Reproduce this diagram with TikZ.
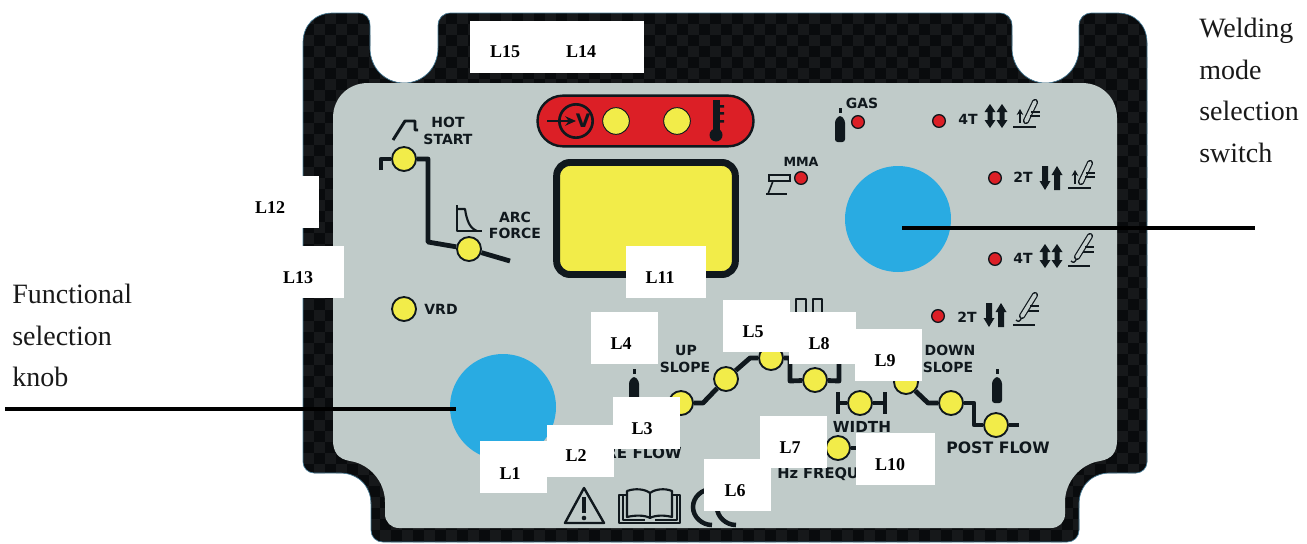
\documentclass[tikz,border=0pt]{standalone}
\usepackage{fontspec}
\setmainfont{Liberation Serif}
\newfontfamily\panelfont{DejaVu Sans}[BoldFont={DejaVu Sans Bold}]
\usetikzlibrary{arrows.meta}
\definecolor{carbon}{HTML}{090B0D}
\definecolor{carbonlt}{HTML}{16181A}
\definecolor{carbonrim}{HTML}{4A7F9A}
\definecolor{plate}{HTML}{C0CBC9}
\definecolor{ink}{HTML}{10181D}
\definecolor{ledyellow}{HTML}{F2EC49}
\definecolor{ledred}{HTML}{DC1F26}
\definecolor{knobblue}{HTML}{29ABE2}
\tikzset{
  updown/.pic={\fill[ink] (0,-12) -- (5.5,-4) -- (2.5,-4) -- (2.5,4) -- (5.5,4) -- (0,12) -- (-5.5,4) -- (-2.5,4) -- (-2.5,-4) -- (-5.5,-4) -- cycle;},
  uponly/.pic={\fill[ink] (0,-12) -- (5.5,-3) -- (3,-3) -- (3,12) -- (-3,12) -- (-3,-3) -- (-5.5,-3) -- cycle;},
  downonly/.pic={\fill[ink] (0,12) -- (5.5,3) -- (3,3) -- (3,-12) -- (-3,-12) -- (-3,3) -- (-5.5,3) -- cycle;},
  bottle/.pic={
    \fill[ink] (-1.5,-34) rectangle (1.5,-29);
    \fill[ink, rounded corners=2pt] (-5,0) -- (-5,-22) -- (0,-27) -- (5,-22) -- (5,0) -- cycle;},
  torchup/.pic={
    \draw[ink, line width=2.2pt] (0,0) -- (23,0);
    \draw[ink, line width=1.3pt, -{Stealth[length=4.5pt,width=5pt]}] (7,-4) -- (7,-18);
    \draw[ink, line width=4.6pt, line cap=round] (13,-6) -- (22,-25);
    \draw[plate!90!white, line width=2.8pt, line cap=round] (13,-6) -- (22,-25);
    \draw[ink, line width=1pt] (18,-15) -- (27,-15) (17,-11) -- (27,-11);},
  torchdown/.pic={
    \draw[ink, line width=2.2pt] (0,0) -- (22,0);
    \draw[ink, line width=1pt] (3,-5) .. controls (5,-3) and (7,-3) .. (9,-8);
    \draw[ink, line width=4.6pt, line cap=round] (9,-9) -- (22,-30);
    \draw[plate!90!white, line width=2.8pt, line cap=round] (9,-9) -- (22,-30);
    \draw[ink, line width=1pt] (17,-19) -- (26,-19) (15,-14) -- (26,-14);}
}
\newcommand{\carbonoutline}{(333,13) -- (358,13) .. controls (366,13) and (370,18) .. (370,26) -- (370,48) .. controls (370,68) and (385,83) .. (404,83) .. controls (423,83) and (438,68) .. (438,48) -- (438,26) .. controls (438,18) and (443,13) .. (451,13) -- (999,13) .. controls (1007,13) and (1012,18) .. (1012,26) -- (1012,48) .. controls (1012,68) and (1027,83) .. (1045.5,83) .. controls (1064,83) and (1079,68) .. (1079,48) -- (1079,26) .. controls (1079,18) and (1084,13) .. (1092,13) -- (1117,13) .. controls (1135,13) and (1147,25) .. (1147,43) -- (1147,462) .. controls (1147,468) and (1142,473) .. (1136,473) -- (1110,473) .. controls (1092,473) and (1079,486) .. (1079,504) -- (1079,530) .. controls (1079,537) and (1074,542) .. (1067,542) -- (383,542) .. controls (376,542) and (371,537) .. (371,530) -- (371,504) .. controls (371,486) and (358,473) .. (340,473) -- (314,473) .. controls (308,473) and (303,468) .. (303,462) -- (303,43) .. controls (303,25) and (315,13) .. (333,13) -- cycle}
\begin{document}
\begin{tikzpicture}[x=0.75pt, y=-0.75pt]
  \tikzstyle{led}=[circle, draw=ink, fill=ledyellow, line width=1.4pt, minimum size=18pt, inner sep=0pt]
  \tikzstyle{dot}=[circle, draw=ink, fill=ledred, line width=1pt, minimum size=9.5pt, inner sep=0pt]
  \tikzstyle{knob}=[circle, fill=knobblue, minimum size=79.5pt, inner sep=0pt]
  \tikzstyle{trace}=[draw=ink, line width=3.6pt, line join=round]
  \tikzstyle{glyph}=[draw=ink, line width=1.8pt, line join=round]
  \tikzstyle{ptxt}=[font=\panelfont\bfseries\fontsize{10.5}{12}\selectfont, text=ink, inner sep=0pt, align=center]
  \tikzstyle{blank}=[fill=white, minimum height=39pt, inner sep=0pt, outer sep=0pt]
  \tikzstyle{lbl}=[font=\bfseries\fontsize{13.5}{15}\selectfont, text=black, inner sep=0pt]
  \tikzstyle{leader}=[draw=black, line width=3.6pt]
  \tikzstyle{callout}=[font=\fontsize{21}{31.2}\selectfont, text=black!90, align=left, inner sep=0pt, anchor=north west]

  \useasboundingbox (0,0) rectangle (1307,543);

  % carbon frame
  \begin{scope}
    \clip \carbonoutline;
    \fill[carbon] (290,0) rectangle (1160,543);
    \foreach \cx in {0,...,38} {
      \foreach \cy in {0,...,24} {
        \fill[carbonlt] ({303+22*\cx},{13+22*\cy}) rectangle ++(11,11);
        \fill[carbonlt] ({314+22*\cx},{24+22*\cy}) rectangle ++(11,11);
      }
    }
  \end{scope}
  \draw[carbonrim, line width=0.5pt] \carbonoutline;

  % plate
  \fill[plate] (368,83) -- (1082,83) .. controls (1102,83) and (1117,98) .. (1117,118) -- (1117,440) .. controls (1117,452) and (1112,459) .. (1100,461) .. controls (1080,464) and (1065,482) .. (1065,502) -- (1065,514) .. controls (1065,522) and (1059,528) .. (1051,528) -- (399,528) .. controls (391,528) and (385,522) .. (385,514) -- (385,502) .. controls (385,482) and (370,464) .. (350,461) .. controls (338,459) and (333,452) .. (333,440) -- (333,118) .. controls (333,98) and (348,83) .. (368,83) -- cycle;

  % knobs
  \node[knob] (funcknob) at (503,407) {};
  \node[knob] (modeknob) at (898,219) {};

  % display
  \node[draw=ink, fill=ledyellow, line width=5.2pt, rounded corners=10pt, minimum width=134pt, minimum height=84pt] (display) at (646,218.5) {};
  \node[draw=ink, fill=ledred, line width=1.8pt, rounded corners=19pt, minimum width=162pt, minimum height=38pt] (meter) at (645.5,121) {};
  \node[circle, draw=ink, line width=2pt, minimum size=25pt, inner sep=0pt] (volt) at (576,121) {};
  \coordinate (voltin) at (547,121);
  \draw[draw=ink, line width=1.8pt, -{Stealth[length=8pt,width=7pt]}] (voltin) -- (volt.center);
  \node[font=\panelfont\bfseries\fontsize{14}{15}\selectfont, text=ink, inner sep=0pt] (voltv) at (583,121) {V};
  \node[led, line width=0.7pt, minimum size=20pt] (meterA) at (616,121) {};
  \node[led, line width=0.7pt, minimum size=20pt] (meterB) at (677,121) {};
  \fill[ink] (712.5,100) rectangle (719.5,135);
  \fill[ink] (716,135) circle[radius=6.5];
  \fill[ink] (716,105) rectangle (724,107.5) (716,112) rectangle (724,114.5) (716,120) rectangle (724,122.5);

  % leds
  \node[led] (hotled) at (404,159) {};
  \node[led] (arcled) at (469,249) {};
  \node[led] (vrdled) at (404,309) {};
  \node[led] (preled) at (681,403) {};
  \node[led] (upled) at (726,379) {};
  \node[led] (peakled) at (771,358) {};
  \node[led] (baseled) at (815,380) {};
  \node[led] (widthled) at (860,403) {};
  \node[led] (freqled) at (838,448) {};
  \node[led] (downled) at (906,382) {};
  \node[led] (finalled) at (951,403) {};
  \node[led] (postled) at (996,425) {};

  % red dots
  \node[dot] (gasdot) at (858,122) {};
  \node[dot] (mmadot) at (801,178) {};
  \node[dot] (dotA) at (939,121) {};
  \node[dot] (dotB) at (995,178) {};
  \node[dot] (dotC) at (995,259) {};
  \node[dot] (dotD) at (938,316) {};

  % traces
  \coordinate (hotend) at (381,170);
  \coordinate (hotbend) at (428,159);
  \coordinate (arcbend) at (428,242);
  \coordinate (arcend) at (510,261);
  \draw[trace] (hotend) |- (hotled);
  \draw[trace] (hotled) -- (hotbend) -- (arcbend) -- (arcled) -- (arcend);
  \coordinate (b1) at (703,403);
  \coordinate (b2) at (750,358);
  \coordinate (b3) at (790,358);
  \coordinate (b4) at (790,381);
  \coordinate (b5) at (839,381);
  \coordinate (b6) at (839,358);
  \coordinate (b7) at (882,358);
  \coordinate (b8) at (928,403);
  \coordinate (b9) at (974,403);
  \coordinate (b10) at (974,425);
  \coordinate (postend) at (1019,425);
  \coordinate (freqend) at (870,448);
  \draw[trace] (preled) -- (b1) -- (upled);
  \draw[trace] (upled) -- (b2) -- (peakled);
  \draw[trace] (peakled) -- (b3) -- (b4) -- (baseled);
  \draw[trace] (baseled) -- (b5) -- (b6) -- (b7) -- (downled);
  \draw[trace] (downled) -- (b8) -- (finalled);
  \draw[trace] (finalled) -- (b9) -- (b10) -- (postled);
  \draw[trace] (postled) -- (postend);
  \draw[trace] (freqled) -- (freqend);
  \coordinate (widthL) at (838,403);
  \coordinate (widthR) at (885,403);
  \draw[trace] (widthL) -- (widthled);
  \draw[trace] (widthled) -- (widthR);
  \draw[trace] (838,392) -- (838,414);
  \draw[trace] (885,392) -- (885,414);

  % small glyphs
  \draw[glyph, line width=2.2pt] (393,140) -- (405,121) -- (415,121) -- (415,130) -- (418,130);
  \draw[glyph, line width=1.6pt] (457,205) -- (457,231) -- (482,231);
  \draw[glyph, line width=1.6pt] (457,209) -- (465,209) .. controls (467,222) and (470,228) .. (477,231);
  \draw[glyph, line width=2.2pt] (796,312) -- (796,299) -- (806,299) -- (806,312);
  \draw[glyph, line width=2.2pt] (813,312) -- (813,299) -- (822,299) -- (822,312);
  \draw[ink, line width=1.3pt, fill=plate!90!white] (769,175) rectangle (790,181);
  \draw[ink, line width=1.2pt] (773,181) -- (768,194);
  \draw[ink, line width=2pt] (766,194) -- (787,194);
  \pic at (840,142) {bottle};
  \pic at (997,403) {bottle};
  \pic at (634,403) {bottle};
  \pic at (990,116) {updown};
  \pic at (1002,116) {updown};
  \pic at (1045,178) {downonly};
  \pic at (1057,178) {uponly};
  \pic at (1045,256) {updown};
  \pic at (1057,256) {updown};
  \pic at (989,315) {downonly};
  \pic at (1001,315) {uponly};
  \pic at (1013,127) {torchup};
  \pic at (1068,188) {torchup};
  \pic at (1068,266) {torchdown};
  \pic at (1013,325) {torchdown};

  % bottom marks
  \draw[glyph, line cap=round] (584,488) -- (604,523) -- (565,523) -- cycle;
  \draw[ink, line width=2.8pt] (584,497) -- (584,513);
  \fill[ink] (584,518) circle[radius=2.3];
  \draw[glyph, line width=1.6pt] (627,491) .. controls (635,488) and (645,489) .. (650,493) .. controls (655,489) and (665,488) .. (672,491) -- (672,517) .. controls (665,515) and (655,515) .. (650,518) .. controls (645,515) and (635,515) .. (627,517) -- cycle;
  \draw[glyph, line width=1.6pt] (650,493) -- (650,518);
  \draw[glyph, line width=1.6pt] (627,495) -- (619,495) -- (619,523) -- (680,523) -- (680,495) -- (672,495);
  \draw[glyph, line width=1.6pt] (623,495) -- (623,520) -- (645,520) (677,495) -- (677,520) -- (655,520);
  \draw[ink, line width=3.4pt] (712,525) .. controls (702,525) and (693,517) .. (693,507) .. controls (693,497) and (702,489) .. (712,489);
  \draw[ink, line width=3.4pt] (736,525) .. controls (726,525) and (717,517) .. (717,507) .. controls (717,497) and (726,489) .. (736,489);

  % plate texts
  \node[ptxt] (hottxt) at (448,122) {HOT};
  \node[ptxt] (starttxt) at (448,139) {START};
  \node[ptxt] (arctxt) at (515,217) {ARC};
  \node[ptxt] (forcetxt) at (515,233) {FORCE};
  \node[ptxt] (vrdtxt) at (441,309) {VRD};
  \node[ptxt] (gastxt) at (862,103) {GAS};
  \node[ptxt, font=\panelfont\bfseries\fontsize{9.5}{11}\selectfont] (mmatxt) at (801,162) {MMA};
  \node[ptxt] (fourA) at (968,119) {4T};
  \node[ptxt] (twoA) at (1023,177) {2T};
  \node[ptxt] (fourB) at (1023,258) {4T};
  \node[ptxt] (twoB) at (967,317) {2T};
  \node[ptxt] (uptxt) at (686,350) {UP};
  \node[ptxt] (upslope) at (685,367) {SLOPE};
  \node[ptxt] (downtxt) at (950,350) {DOWN};
  \node[ptxt] (downslope) at (948,367) {SLOPE};
  \node[ptxt, font=\panelfont\bfseries\fontsize{11.4}{12}\selectfont] (widthtxt) at (862,427) {WIDTH};
  \node[ptxt, font=\panelfont\bfseries\fontsize{11.8}{12}\selectfont] (posttxt) at (998,448) {POST FLOW};
  \node[ptxt, anchor=west, font=\panelfont\bfseries\fontsize{11}{12}\selectfont] (freqtxt) at (777,474) {Hz FREQU};
  \node[ptxt, anchor=east, font=\panelfont\bfseries\fontsize{11.4}{12}\selectfont] (pretxt) at (682,453) {PRE FLOW};

  % white patches
  \foreach \nm/\bx/\by/\bw/\tx/\ty in {
    1/513.5/467/67/510/474, 2/580.5/451/67/576/456, 3/646.5/423/67/642/429,
    4/624.5/338/67/621/344, 5/756.5/326/67/753/332, 6/737.5/485/67/735/491,
    7/793.5/442/67/790/448, 8/822.5/338/67/819/344, 9/888.5/355/67/885/361,
    10/895.5/459/79/890/465, 11/666/272/80/660/278, 12/285/202/67/270/208,
    13/310.5/272/67/298/278, 14/600.5/47/87/581/52, 15/513.5/47/87/505/52} {
    \node[blank, minimum width={\bw*0.75pt}] (patch\nm) at (\bx,\by) {};
    \node[lbl] (L\nm) at (\tx,\ty) {L\nm};
  }

  % callouts
  \coordinate (funcstart) at (5,409);
  \coordinate (functip) at (456,409);
  \coordinate (modetip) at (902,228);
  \coordinate (modeend) at (1255,228);
  \draw[leader] (funcstart) -- (functip);
  \draw[leader] (modetip) -- (modeend);
  \node[callout] (functext) at (12,284) {Functional\\selection\\knob};
  \node[callout] (modetext) at (1199,18) {Welding\\mode\\selection\\switch};
\end{tikzpicture}
\end{document}
